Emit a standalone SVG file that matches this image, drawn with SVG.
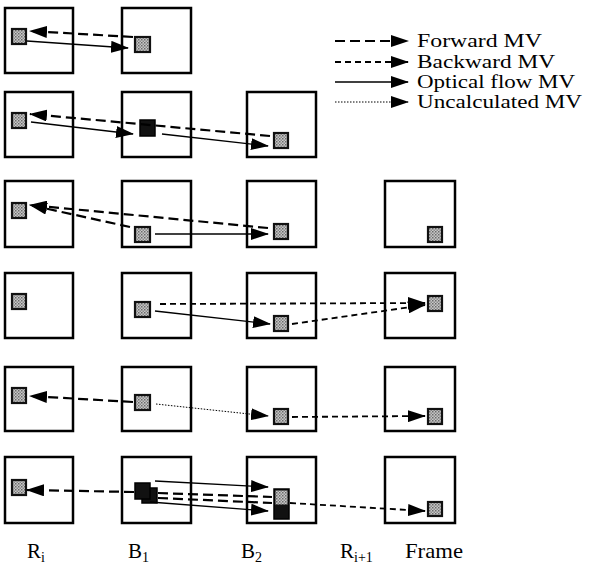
<svg xmlns="http://www.w3.org/2000/svg" width="590" height="564" viewBox="0 0 590 564">
<style>
.box{fill:#fff;stroke:#000;stroke-width:2.5}
.blk{stroke:#111;stroke-width:2.2;fill:url(#spk)}
.dark{fill:#111;stroke:#000;stroke-width:1.5}
.fw{fill:none;stroke:#000;stroke-width:2.2;stroke-dasharray:10 5}
.bw{fill:none;stroke:#000;stroke-width:1.8;stroke-dasharray:6 4}
.of{fill:none;stroke:#000;stroke-width:1.4}
.uc{fill:none;stroke:#000;stroke-width:1;stroke-dasharray:1.5 1.5}
.lab{font-family:"Liberation Serif","Times New Roman",serif;fill:#000}
</style>
<defs>
<marker id="ah" viewBox="0 0 18 12" refX="17" refY="6" markerWidth="18" markerHeight="12" markerUnits="userSpaceOnUse" orient="auto"><path d="M0,0 L18,6 L0,12 z" fill="#000"/></marker>
<pattern id="spk" width="3" height="3" patternUnits="userSpaceOnUse"><rect width="3" height="3" fill="#c8c8c8"/><rect width="1.5" height="1.5" fill="#6a6a6a"/><rect x="1.5" y="1.5" width="1.5" height="1.5" fill="#8a8a8a"/></pattern>
</defs>
<rect width="590" height="564" fill="#fff"/>

<!-- Row 1 -->
<g id="r1c1"><rect class="box" x="5" y="8" width="68" height="65"/><rect class="blk" x="12" y="29" width="14" height="15"/></g>
<g id="r1c2"><rect class="box" x="122" y="8" width="69" height="65"/><rect class="blk" x="135" y="37" width="15" height="15"/></g>

<!-- Row 2 -->
<g id="r2c1"><rect class="box" x="5" y="92" width="68" height="65"/><rect class="blk" x="12" y="113" width="14" height="15"/></g>
<g id="r2c2"><rect class="box" x="122" y="92" width="69" height="65"/><rect class="dark" x="140" y="120" width="15" height="16"/></g>
<g id="r2c3"><rect class="box" x="247" y="92" width="69" height="65"/><rect class="blk" x="274" y="133" width="14" height="15"/></g>

<!-- Row 3 -->
<g id="r3c1"><rect class="box" x="5" y="181" width="68" height="66"/><rect class="blk" x="12" y="203" width="14" height="15"/></g>
<g id="r3c2"><rect class="box" x="122" y="181" width="69" height="66"/><rect class="blk" x="135" y="227" width="15" height="15"/></g>
<g id="r3c3"><rect class="box" x="247" y="181" width="69" height="66"/><rect class="blk" x="274" y="224" width="14" height="15"/></g>
<g id="r3c4"><rect class="box" x="385" y="181" width="70" height="66"/><rect class="blk" x="428" y="227" width="14" height="15"/></g>

<!-- Row 4 -->
<g id="r4c1"><rect class="box" x="5" y="273" width="68" height="65"/><rect class="blk" x="12" y="294" width="14" height="15"/></g>
<g id="r4c2"><rect class="box" x="122" y="273" width="69" height="65"/><rect class="blk" x="135" y="302" width="15" height="15"/></g>
<g id="r4c3"><rect class="box" x="247" y="273" width="69" height="65"/><rect class="blk" x="274" y="316" width="14" height="15"/></g>
<g id="r4c4"><rect class="box" x="385" y="273" width="70" height="65"/><rect class="blk" x="428" y="296" width="14" height="15"/></g>

<!-- Row 5 -->
<g id="r5c1"><rect class="box" x="5" y="367" width="68" height="64"/><rect class="blk" x="12" y="388" width="14" height="15"/></g>
<g id="r5c2"><rect class="box" x="122" y="367" width="69" height="64"/><rect class="blk" x="135" y="395" width="15" height="15"/></g>
<g id="r5c3"><rect class="box" x="247" y="367" width="69" height="64"/><rect class="blk" x="274" y="409" width="14" height="15"/></g>
<g id="r5c4"><rect class="box" x="385" y="367" width="70" height="64"/><rect class="blk" x="428" y="409" width="14" height="15"/></g>

<!-- Row 6 -->
<g id="r6c1"><rect class="box" x="5" y="457" width="68" height="66"/><rect class="blk" x="12" y="480" width="14" height="15"/></g>
<g id="r6c2"><rect class="box" x="122" y="457" width="69" height="66"/><rect class="dark" x="142" y="488" width="15" height="15"/><rect class="dark" x="135" y="483" width="15" height="16"/></g>
<g id="r6c3"><rect class="box" x="247" y="457" width="69" height="66"/><rect x="274" y="489" width="15" height="30" fill="#111" stroke="#000" stroke-width="1.5"/><rect x="275.5" y="490.5" width="12" height="14" fill="url(#spk)"/></g>
<g id="r6c4"><rect class="box" x="385" y="457" width="70" height="66"/><rect class="blk" x="428" y="502" width="14" height="14"/></g>

<!-- Connectors -->
<g id="connectors">
<!-- row 1 -->
<line class="fw" x1="133" y1="37" x2="30" y2="31" marker-end="url(#ah)"/>
<line class="of" x1="27" y1="41" x2="128" y2="48" marker-end="url(#ah)"/>
<!-- row 2 -->
<line class="fw" x1="270" y1="136" x2="30" y2="114" marker-end="url(#ah)"/>
<line class="of" x1="31" y1="122" x2="133" y2="134" marker-end="url(#ah)"/>
<line class="of" x1="162" y1="134" x2="268" y2="146" marker-end="url(#ah)"/>
<!-- row 3 -->
<line class="fw" x1="268" y1="228" x2="30" y2="205" marker-end="url(#ah)"/>
<line class="fw" x1="130" y1="227" x2="30" y2="205" marker-end="url(#ah)"/>
<line class="of" x1="155" y1="234" x2="268" y2="234" marker-end="url(#ah)"/>
<!-- row 4 -->
<line class="bw" x1="160" y1="304" x2="425" y2="303" marker-end="url(#ah)"/>
<line class="bw" x1="292" y1="324" x2="425" y2="305" marker-end="url(#ah)"/>
<line class="of" x1="155" y1="311" x2="270" y2="324" marker-end="url(#ah)"/>
<!-- row 5 -->
<line class="fw" x1="133" y1="402" x2="30" y2="396" marker-end="url(#ah)"/>
<line class="uc" x1="156" y1="404" x2="268" y2="416" marker-end="url(#ah)"/>
<line class="bw" x1="292" y1="417" x2="425" y2="416" marker-end="url(#ah)"/>
<!-- row 6 -->
<line class="fw" x1="134" y1="492" x2="27" y2="490" marker-end="url(#ah)"/>
<line class="of" x1="155" y1="481" x2="268" y2="487" marker-end="url(#ah)"/>
<line class="fw" x1="158" y1="493" x2="272" y2="497"/>
<line class="fw" x1="158" y1="498" x2="272" y2="503"/>
<line class="of" x1="150" y1="502" x2="268" y2="511" marker-end="url(#ah)"/>
<line class="bw" x1="290" y1="503" x2="425" y2="511" marker-end="url(#ah)"/>
</g>

<!-- Legend -->
<g id="legend">
<line class="fw" x1="335" y1="41" x2="408" y2="41" marker-end="url(#ah)"/>
<line class="bw" x1="335" y1="62" x2="408" y2="62" marker-end="url(#ah)"/>
<line class="of" x1="335" y1="82" x2="408" y2="82" marker-end="url(#ah)"/>
<line class="uc" x1="335" y1="102" x2="408" y2="102" marker-end="url(#ah)"/>
<text class="lab" x="417" y="47" font-size="19" textLength="125" lengthAdjust="spacingAndGlyphs">Forward MV</text>
<text class="lab" x="417" y="68" font-size="19" textLength="138" lengthAdjust="spacingAndGlyphs">Backward MV</text>
<text class="lab" x="417" y="88" font-size="19" textLength="158" lengthAdjust="spacingAndGlyphs">Optical flow MV</text>
<text class="lab" x="417" y="108" font-size="19" textLength="165" lengthAdjust="spacingAndGlyphs">Uncalculated MV</text>
</g>

<!-- Column labels -->
<g id="labels">
<text class="lab" x="27" y="558" font-size="21">R<tspan font-size="14" dy="4">i</tspan></text>
<text class="lab" x="128" y="558" font-size="21">B<tspan font-size="14" dy="4">1</tspan></text>
<text class="lab" x="241" y="558" font-size="21">B<tspan font-size="14" dy="4">2</tspan></text>
<text class="lab" x="340" y="558" font-size="21">R<tspan font-size="14" dy="4">i+1</tspan></text>
<text class="lab" x="405" y="558" font-size="21" textLength="58" lengthAdjust="spacingAndGlyphs">Frame</text>
</g>
</svg>
